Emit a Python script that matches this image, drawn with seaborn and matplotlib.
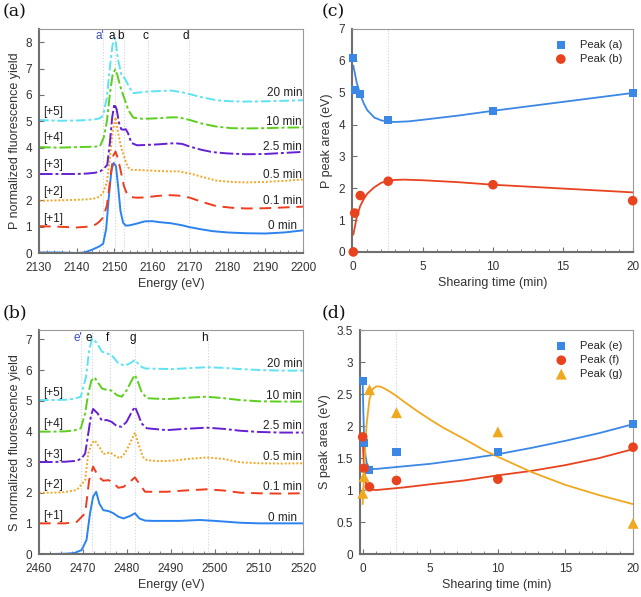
import numpy as np
import pandas as pd
import matplotlib
matplotlib.use("Agg")
import matplotlib.pyplot as plt
from matplotlib.ticker import MultipleLocator
import seaborn as sns

sns.set_style("ticks")
plt.rcParams['font.family'] = ['Liberation Sans', 'DejaVu Sans']

# ---------------- datos ----------------
times = ["0 min", "0.1 min", "0.5 min", "2.5 min", "10 min", "20 min"]
offsets = ["", "[+1]", "[+2]", "[+3]", "[+4]", "[+5]"]
colores = ["#2b82f0", "#ef3c1e", "#f5a623", "#6420d2", "#5ccf1e", "#5ee3f2"]
estilos = ["-", (0, (6, 3.5)), (0, (1, 1)), (0, (7, 1.5, 1.5, 1.5)),
           (0, (6, 1.5, 1.5, 1.5)), (0, (5, 1.5, 1.5, 1.5))]

# espectros P (panel a)
P_E_0 = [2130, 2135, 2140, 2142, 2144, 2146, 2147, 2147.8, 2148.5, 2149.2, 2149.8, 2150.4, 2151, 2151.6,
         2152.3, 2153, 2154, 2156, 2158, 2160, 2162, 2165, 2168, 2170, 2173, 2176, 2180, 2185, 2190, 2195, 2200]
P_V_0 = [0.02, 0.02, 0.0, 0.02, 0.12, 0.25, 0.35, 0.9, 2.1, 3.15, 3.42, 3.3, 2.5, 1.6,
         1.15, 1.04, 1.05, 1.12, 1.2, 1.21, 1.17, 1.13, 1.05, 0.98, 0.9, 0.83, 0.78, 0.75, 0.74, 0.78, 0.86]
P_E_01 = [2130, 2135, 2140, 2143, 2145, 2146, 2147, 2148, 2149, 2149.7, 2150.3, 2151, 2151.7, 2152.5, 2153.3,
          2154.5, 2156, 2158, 2161, 2164, 2167, 2170, 2173, 2177, 2181, 2185, 2190, 2195, 2200]
P_V_01 = [1.02, 1.0, 0.97, 1.0, 1.08, 1.19, 1.35, 1.8, 2.9, 3.7, 3.85, 3.55, 3.1, 2.55, 2.25,
          2.12, 2.1, 2.11, 2.16, 2.2, 2.18, 2.1, 1.95, 1.78, 1.72, 1.69, 1.7, 1.73, 1.76]
P_E_05 = [2130, 2135, 2140, 2143, 2145, 2146.2, 2147.2, 2148, 2148.8, 2149.5, 2150.3, 2151, 2151.8, 2152.8,
          2153.6, 2154.5, 2156, 2158, 2161, 2164, 2167, 2170, 2173, 2177, 2181, 2185, 2190, 2195, 2200]
P_V_05 = [1.98, 2.0, 2.02, 2.04, 2.08, 2.15, 2.35, 2.7, 3.6, 4.6, 5.15, 4.55, 4.0, 3.55,
          3.25, 3.16, 3.15, 3.14, 3.12, 3.1, 3.1, 3.02, 2.9, 2.75, 2.7, 2.68, 2.7, 2.74, 2.79]
P_E_25 = [2130, 2135, 2140, 2143, 2145, 2146.2, 2147.2, 2148.1, 2148.8, 2149.4, 2150, 2150.6, 2151.2, 2151.8,
          2152.4, 2153, 2153.6, 2154.5, 2156, 2158, 2161, 2164, 2166, 2168, 2170, 2173, 2176, 2180, 2185,
          2190, 2195, 2200]
P_V_25 = [3.0, 3.0, 3.0, 3.02, 3.05, 3.1, 3.2, 3.35, 4.2, 5.15, 5.66, 5.45, 4.95, 4.7,
          4.68, 4.7, 4.55, 4.18, 4.09, 4.1, 4.12, 4.15, 4.17, 4.14, 4.04, 3.92, 3.83, 3.78, 3.75,
          3.76, 3.8, 3.84]
P_E_10 = [2130, 2135, 2140, 2143, 2145, 2146.2, 2147.2, 2148, 2148.8, 2149.5, 2150.2, 2150.8, 2151.5, 2152.5,
          2153.7, 2155, 2157, 2159, 2162, 2165, 2167, 2170, 2173, 2177, 2181, 2185, 2190, 2195, 2200]
P_V_10 = [4.02, 4.0, 4.02, 4.03, 4.04, 4.06, 4.4, 5.0, 6.05, 6.75, 6.97, 6.75, 6.35, 5.92,
          5.42, 5.14, 5.1, 5.1, 5.12, 5.15, 5.15, 5.05, 4.92, 4.8, 4.74, 4.73, 4.74, 4.76, 4.77]
P_E_20 = [2130, 2135, 2140, 2143, 2145, 2146.2, 2147, 2148, 2148.8, 2149.5, 2150.2, 2151, 2151.9, 2152.8,
          2153.9, 2155, 2157, 2159, 2162, 2165, 2168, 2170, 2173, 2177, 2181, 2185, 2190, 2195, 2200]
P_V_20 = [5.05, 5.02, 5.03, 5.05, 5.08, 5.12, 5.23, 5.9, 7.05, 7.9, 8.17, 7.31, 6.74, 6.62,
          6.3, 6.07, 6.1, 6.13, 6.15, 6.17, 6.1, 6.03, 5.92, 5.8, 5.76, 5.75, 5.76, 5.78, 5.8]

# espectros S (panel b)
S_E_0 = [2460, 2463, 2466, 2468, 2469.7, 2470.8, 2471.6, 2472.3, 2473, 2473.7, 2474.6, 2475.8, 2476.9, 2478,
         2479.2, 2480.7, 2481.8, 2482.8, 2484.1, 2486, 2489, 2492, 2496.6, 2500, 2505.7, 2510, 2515, 2520]
S_V_0 = [0.0, 0.0, 0.01, 0.03, 0.13, 0.46, 1.33, 1.87, 2.03, 1.65, 1.43, 1.4, 1.33, 1.22,
         1.16, 1.24, 1.33, 1.16, 1.09, 1.08, 1.08, 1.08, 1.11, 1.08, 1.02, 1.0, 1.0, 1.0]
S_E_01 = [2460, 2463, 2466, 2468.6, 2470.5, 2471.4, 2472.3, 2473.5, 2474.6, 2475.8, 2476.9, 2478, 2479.2,
          2480.7, 2481.8, 2483, 2484.1, 2486, 2489, 2493, 2498.1, 2502, 2505.7, 2510, 2515, 2520]
S_V_01 = [1.0, 1.0, 1.0, 1.05, 1.33, 2.41, 2.85, 2.52, 2.39, 2.41, 2.33, 2.16, 2.19,
          2.36, 2.5, 2.25, 2.03, 2.03, 2.03, 2.07, 2.11, 2.07, 2.0, 1.98, 1.97, 1.98]
S_E_05 = [2460, 2463, 2466, 2468.6, 2470.5, 2471.2, 2472, 2472.7, 2473.9, 2474.6, 2475.4, 2476.1, 2477.3,
          2478.4, 2479.5, 2480.7, 2481.8, 2482.8, 2483.6, 2484.5, 2487, 2490, 2494, 2498.1, 2502, 2505.7,
          2510, 2515, 2520]
S_V_05 = [2.0, 2.0, 2.02, 2.09, 2.41, 3.28, 3.62, 3.7, 3.45, 3.26, 3.28, 3.32, 3.2,
          3.12, 3.28, 3.61, 3.96, 3.5, 3.17, 3.06, 3.03, 3.04, 3.1, 3.15, 3.1, 2.99,
          2.96, 2.95, 2.96]
S_E_25 = [2460, 2463, 2466, 2468.6, 2469.7, 2470.5, 2471.2, 2471.8, 2472.3, 2473.3, 2474.3, 2475.4, 2476.5,
          2477.7, 2478.8, 2479.9, 2481.1, 2481.8, 2482.6, 2483.3, 2484.5, 2489, 2493, 2498.1, 2502, 2505.7,
          2510, 2515, 2520]
S_V_25 = [3.0, 3.0, 3.01, 3.04, 3.12, 3.28, 3.93, 4.5, 4.73, 4.59, 4.35, 4.37, 4.31,
          4.17, 4.15, 4.31, 4.64, 4.8, 4.53, 4.26, 4.1, 4.04, 4.08, 4.12, 4.08, 4.02,
          3.98, 3.96, 3.96]
S_E_10 = [2460, 2463, 2466, 2468, 2469.5, 2470.5, 2471.2, 2471.9, 2472.6, 2473.5, 2474.3, 2475.4, 2476.5,
          2477.7, 2478.8, 2479.9, 2481.1, 2481.8, 2482.6, 2483.3, 2484.5, 2489, 2493, 2498.1, 2502, 2505.7,
          2510, 2515, 2520]
S_V_10 = [3.99, 3.99, 4.0, 4.03, 4.1, 4.59, 5.24, 5.65, 5.76, 5.57, 5.4, 5.35, 5.33,
          5.18, 5.13, 5.33, 5.67, 5.84, 5.57, 5.29, 5.08, 5.05, 5.09, 5.13, 5.08, 5.02,
          4.98, 4.97, 4.97]
S_E_20 = [2460, 2463, 2466, 2468, 2469.5, 2470.7, 2471.4, 2472.1, 2473.1, 2474.3, 2475.4, 2476.5, 2478,
          2479.5, 2480.7, 2481.8, 2483, 2484.1, 2487, 2490.5, 2494, 2498.1, 2502, 2505.7, 2510, 2515, 2520]
S_V_20 = [5.02, 5.02, 5.03, 5.06, 5.13, 5.78, 6.65, 7.03, 6.89, 6.6, 6.54, 6.49, 6.22,
          6.14, 6.22, 6.33, 6.13, 6.05, 6.04, 6.03, 6.06, 6.09, 6.07, 6.03, 6.0, 5.98, 5.98]

P_curvas = [(P_E_0, P_V_0), (P_E_01, P_V_01), (P_E_05, P_V_05), (P_E_25, P_V_25), (P_E_10, P_V_10), (P_E_20, P_V_20)]
S_curvas = [(S_E_0, S_V_0), (S_E_01, S_V_01), (S_E_05, S_V_05), (S_E_25, S_V_25), (S_E_10, S_V_10), (S_E_20, S_V_20)]

# posiciones de picos
P_picos = ["a'", "a", "b", "c", "d"]
P_picos_E = [2147.0, 2150.2, 2152.6, 2159.0, 2169.7]
S_picos = ["e'", "e", "f", "g", "h"]
S_picos_E = [2469.5, 2472.0, 2476.1, 2481.8, 2498.3]

# etiquetas de tiempo (altura del texto)
P_tiempo_y = [1.02, 1.97, 2.98, 4.03, 4.96, 6.07]
S_tiempo_y = [1.16, 2.17, 3.17, 4.17, 5.16, 6.18]
P_offset_y = [0, 1.31, 2.32, 3.33, 4.38, 5.35]
S_offset_y = [0, 1.24, 2.25, 3.23, 4.24, 5.26]

# áreas de picos vs tiempo de cizalla
t_med = [0, 0.1, 0.5, 2.5, 10, 20]
area_a = [6.09, 5.09, 4.97, 4.13, 4.43, 4.99]
area_b = [0.0, 1.22, 1.77, 2.22, 2.11, 1.61]
area_e = [2.70, 1.74, 1.32, 1.60, 1.59, 2.03]
area_f = [1.83, 1.34, 1.05, 1.15, 1.17, 1.67]
area_g = [0.95, 1.21, 2.57, 2.21, 1.91, 0.48]

# curvas de ajuste
t_fit_a = [0, 0.25, 0.5, 0.75, 1, 1.5, 2, 2.5, 3, 4, 5, 7.5, 10, 12.5, 15, 17.5, 20]
fit_a = [5.85, 5.3, 4.94, 4.66, 4.45, 4.22, 4.13, 4.09, 4.08, 4.1, 4.15, 4.28, 4.43, 4.57, 4.71, 4.85, 4.99]
t_fit_b = [0, 0.25, 0.5, 0.75, 1, 1.5, 2, 2.5, 3, 3.6, 5, 7.5, 10, 12.5, 15, 17.5, 20]
fit_b = [0.54, 1.1, 1.45, 1.66, 1.83, 2.03, 2.17, 2.24, 2.26, 2.27, 2.25, 2.19, 2.11, 2.05, 1.99, 1.93, 1.87]
t_fit_e = [0, 0.05, 0.1, 0.2, 0.3, 0.5, 0.75, 1, 2, 3, 5, 7.5, 10, 12.5, 15, 17.5, 20]
fit_e = [2.7, 2.2, 1.85, 1.55, 1.42, 1.34, 1.33, 1.33, 1.35, 1.37, 1.41, 1.48, 1.56, 1.66, 1.77, 1.89, 2.03]
t_fit_f = [0, 0.05, 0.1, 0.2, 0.3, 0.5, 1, 2, 3, 5, 7.5, 10, 12.5, 15, 17.5, 20]
fit_f = [1.83, 1.55, 1.35, 1.15, 1.06, 1.01, 1.0, 1.02, 1.04, 1.09, 1.15, 1.23, 1.3, 1.39, 1.5, 1.64]
t_fit_g = [0, 0.1, 0.2, 0.3, 0.5, 0.75, 1, 1.25, 1.5, 2, 2.5, 3, 4, 5, 6, 7.5, 9, 10, 12.5, 15, 17.5, 20]
fit_g = [0.78, 1.25, 1.7, 2.05, 2.42, 2.58, 2.62, 2.62, 2.6, 2.54, 2.47, 2.39, 2.24, 2.1, 1.97, 1.8, 1.62,
         1.52, 1.28, 1.08, 0.92, 0.78]

C_AZUL = "#3b87e6"
C_ROJO = "#e8431e"
C_NARANJA = "#f0a81e"
C_LINEA = "#c9d4df"
FS = 8.5

fig = plt.figure(figsize=(6.41, 5.97), dpi=100)
ax_a = fig.add_axes([0.0608, 0.5762, 0.412, 0.375])
ax_b = fig.add_axes([0.0608, 0.072, 0.412, 0.375])
ax_c = fig.add_axes([0.549, 0.578, 0.438, 0.3735])
ax_d = fig.add_axes([0.5616, 0.072, 0.426, 0.375])


def estilo_ejes(ax):
    for lado in ["top", "right"]:
        ax.spines[lado].set_color("#9a9a9a")
        ax.spines[lado].set_linewidth(0.8)
    for lado in ["left", "bottom"]:
        ax.spines[lado].set_color("#6f6f6f")
        ax.spines[lado].set_linewidth(1.5)
    ax.tick_params(axis="both", which="both", direction="in", colors="#6f6f6f",
                   labelcolor="#333333", labelsize=FS)
    ax.tick_params(which="major", length=3.5)
    ax.tick_params(which="minor", length=2)
    ax.tick_params(axis="x", which="major", pad=6.5)
    ax.tick_params(axis="y", which="major", pad=5)


def panel_espectros(ax, curvas, picos, picos_E, xlim, ylim, etiq_dx, tiempo_y, offset_y, x_minor, ylabel):
    for E in picos_E:
        ax.axvline(E, color=C_LINEA, lw=0.8, ls=":", zorder=0)
    for (E, V), c, ls in zip(curvas, colores, estilos):
        sns.lineplot(x=E, y=V, ax=ax, color=c, linestyle=ls, lw=1.4)
    for i, (nombre, E) in enumerate(zip(picos, picos_E)):
        ax.text(E - etiq_dx, ylim[1] - 0.05, nombre, ha="center", va="top", fontsize=FS,
                color="#3a4fc0" if i == 0 else "#111111")
    for i, t in enumerate(times):
        dx = 0.0 if i > 0 else (xlim[1] - xlim[0]) * 0.02
        ax.text(xlim[1] - (xlim[1] - xlim[0]) * 0.004 - dx, tiempo_y[i], t, ha="right", va="center",
                fontsize=FS, color="#222222")
        if offsets[i]:
            ax.text(xlim[0] + (xlim[1] - xlim[0]) * 0.016, offset_y[i], offsets[i], ha="left",
                    va="center", fontsize=FS, color="#222222")
    ax.set_xlim(*xlim)
    ax.set_ylim(*ylim)
    ax.xaxis.set_minor_locator(MultipleLocator(x_minor))
    ax.yaxis.set_major_locator(MultipleLocator(1))
    ax.set_xlabel("Energy (eV)", fontsize=9, color="#333333", labelpad=3)
    ax.set_ylabel(ylabel, fontsize=9, color="#333333", labelpad=3)
    estilo_ejes(ax)


panel_espectros(ax_a, P_curvas, P_picos, P_picos_E, (2130, 2200), (0, 8.5), 0.9,
                P_tiempo_y, P_offset_y, 2, "P normalized fluorescence yield")
panel_espectros(ax_b, S_curvas, S_picos, S_picos_E, (2460, 2520), (0, 7.3), 0.6,
                S_tiempo_y, S_offset_y, 2.5, "S normalized fluorescence yield")

leyenda = dict(loc="upper right", bbox_to_anchor=(0.99, 0.985), frameon=False, fontsize=8,
               handletextpad=0.7, labelspacing=0.35, borderaxespad=0.3)

# panel c
ax_c.axvline(2.5, color=C_LINEA, lw=0.8, ls=":", zorder=0)
sns.lineplot(x=t_fit_a, y=fit_a, ax=ax_c, color=C_AZUL, lw=1.3)
sns.lineplot(x=t_fit_b, y=fit_b, ax=ax_c, color=C_ROJO, lw=1.3)
sns.scatterplot(x=t_med, y=area_a, ax=ax_c, marker="s", s=34, color=C_AZUL, edgecolor="none",
                label="Peak (a)", clip_on=False, zorder=5)
sns.scatterplot(x=t_med, y=area_b, ax=ax_c, marker="o", s=48, color=C_ROJO, edgecolor="none",
                label="Peak (b)", clip_on=False, zorder=5)
ax_c.set_xlim(-0.1, 20)
ax_c.set_ylim(0, 7)
ax_c.xaxis.set_major_locator(MultipleLocator(5))
ax_c.xaxis.set_minor_locator(MultipleLocator(1))
ax_c.set_xlabel("Shearing time (min)", fontsize=9, color="#333333", labelpad=3)
ax_c.set_ylabel("P peak area (eV)", fontsize=9, color="#333333", labelpad=4)
ax_c.legend(**leyenda)
estilo_ejes(ax_c)

# panel d
ax_d.axvline(2.5, color=C_LINEA, lw=0.8, ls=":", zorder=0)
sns.lineplot(x=t_fit_e, y=fit_e, ax=ax_d, color=C_AZUL, lw=1.3)
sns.lineplot(x=t_fit_f, y=fit_f, ax=ax_d, color=C_ROJO, lw=1.3)
sns.lineplot(x=t_fit_g, y=fit_g, ax=ax_d, color=C_NARANJA, lw=1.3)
sns.scatterplot(x=t_med, y=area_e, ax=ax_d, marker="s", s=34, color=C_AZUL, edgecolor="none",
                label="Peak (e)", clip_on=False, zorder=5)
sns.scatterplot(x=t_med, y=area_f, ax=ax_d, marker="o", s=48, color=C_ROJO, edgecolor="none",
                label="Peak (f)", clip_on=False, zorder=5)
sns.scatterplot(x=t_med, y=area_g, ax=ax_d, marker="^", s=62, color=C_NARANJA, edgecolor="none",
                label="Peak (g)", clip_on=False, zorder=5)
ax_d.set_xlim(-0.2, 20)
ax_d.set_ylim(0, 3.5)
ax_d.xaxis.set_major_locator(MultipleLocator(5))
ax_d.xaxis.set_minor_locator(MultipleLocator(1))
ax_d.yaxis.set_major_locator(MultipleLocator(0.5))
ax_d.yaxis.set_major_formatter(plt.FuncFormatter(lambda v, p: f"{v:g}"))
ax_d.set_xlabel("Shearing time (min)", fontsize=9, color="#333333", labelpad=3)
ax_d.set_ylabel("S peak area (eV)", fontsize=9, color="#333333", labelpad=4)
ax_d.legend(**leyenda)
estilo_ejes(ax_d)

# letras de panel
for x, y, letra in [(0.004, 0.995, "(a)"), (0.004, 0.49, "(b)"), (0.502, 0.995, "(c)"), (0.502, 0.49, "(d)")]:
    fig.text(x, y, letra, ha="left", va="top", fontsize=12.5, family="DejaVu Serif", color="#111111")

fig.savefig("out.png", dpi=100)
